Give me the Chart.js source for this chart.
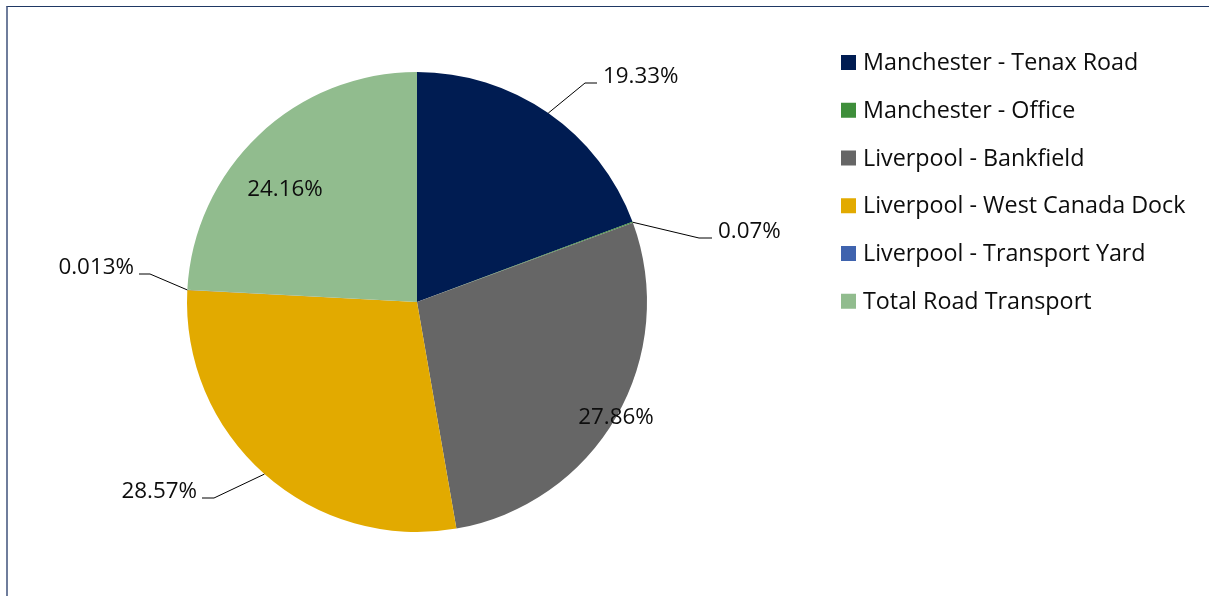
<!DOCTYPE html>
<html>
<head>
<meta charset="utf-8">
<script src="https://cdn.jsdelivr.net/npm/chart.js@4"></script>
<style>
  html, body { margin: 0; padding: 0; background: #fff; overflow: hidden; }
  #wrap { position: relative; width: 1209px; height: 596px; }
  #frame { position: absolute; left: 6px; top: 6px; width: 1220px; height: 620px;
           border-top: 1px solid #1f3864; border-left: 2px solid #6f7d9c; box-sizing: border-box; }
  canvas { position: absolute; left: 0; top: 0; }
</style>
</head>
<body>
<div id="wrap">
  <div id="frame"></div>
  <canvas id="c" width="1209" height="596"></canvas>
</div>
<script>
const categories = [
  "Manchester - Tenax Road",
  "Manchester - Office",
  "Liverpool - Bankfield",
  "Liverpool - West Canada Dock",
  "Liverpool - Transport Yard",
  "Total Road Transport"
];
const shares = [19.33, 0.07, 27.86, 28.57, 0.013, 24.16];
const valueLabels = ["19.33%", "0.07%", "27.86%", "28.57%", "0.013%", "24.16%"];
const colors = ["#001c52", "#3e8e3a", "#666666", "#e2aa00", "#3f63ae", "#91bc8e"];

const LEGEND_FONT = '23.3px "Open Sans", sans-serif';
const LABEL_FONT = '22.4px "Open Sans", sans-serif';
const TEXT = '#0d0d0d';

// label layout, as offsets from the pie centre (pixels at radius 230)
const placement = [
  { kind: 'out', ex: 168, ey: -219, hx: 12, side: 'r' },
  { kind: 'out', ex: 282, ey: -64, hx: 13, side: 'r' },
  { kind: 'in',  cx: 199, cy: 114 },
  { kind: 'out', ex: -203, ey: 196, hx: -12, side: 'l' },
  { kind: 'out', ex: -267, ey: -28, hx: -11, side: 'l' },
  { kind: 'in',  cx: -132, cy: -114 }
];

const labelPlugin = {
  id: 'labels',
  afterDatasetsDraw(chart) {
    const ctx = chart.ctx;
    const meta = chart.getDatasetMeta(0);
    ctx.save();
    ctx.font = LABEL_FONT;
    ctx.fillStyle = TEXT;
    ctx.strokeStyle = '#000';
    ctx.lineWidth = 1;
    meta.data.forEach((arc, i) => {
      const p = arc.getProps(['x', 'y', 'startAngle', 'endAngle', 'outerRadius'], true);
      const s = p.outerRadius / 230;
      const mid = (p.startAngle + p.endAngle) / 2;
      const pl = placement[i];
      if (pl.kind === 'in') {
        ctx.textAlign = 'center';
        ctx.textBaseline = 'alphabetic';
        ctx.fillText(valueLabels[i], p.x + pl.cx * s, p.y + pl.cy * s + 8);
      } else {
        const ax = p.x + Math.cos(mid) * p.outerRadius;
        const ay = p.y + Math.sin(mid) * p.outerRadius;
        const ex = p.x + pl.ex * s, ey = p.y + pl.ey * s;
        const hx = ex + pl.hx;
        ctx.beginPath();
        ctx.moveTo(ax, ay);
        ctx.lineTo(ex, ey);
        ctx.lineTo(hx, ey);
        ctx.stroke();
        ctx.textBaseline = 'alphabetic';
        if (pl.side === 'r') {
          ctx.textAlign = 'left';
          ctx.fillText(valueLabels[i], hx + 6, ey);
        } else {
          ctx.textAlign = 'right';
          ctx.fillText(valueLabels[i], hx - 5, ey);
        }
      }
    });
    ctx.restore();
  }
};

const legendPlugin = {
  id: 'sideLegend',
  afterDraw(chart) {
    const ctx = chart.ctx;
    ctx.save();
    ctx.font = LEGEND_FONT;
    ctx.textAlign = 'left';
    ctx.textBaseline = 'alphabetic';
    chart.data.labels.forEach((lab, i) => {
      const base = 70 + i * 47.75;
      ctx.fillStyle = chart.data.datasets[0].backgroundColor[i];
      ctx.fillRect(841, base - 15, 15, 15);
      ctx.fillStyle = TEXT;
      ctx.fillText(lab, 863, base);
    });
    ctx.restore();
  }
};

new Chart(document.getElementById('c'), {
  type: 'pie',
  data: {
    labels: categories,
    datasets: [{
      data: shares,
      backgroundColor: colors,
      borderWidth: 0
    }]
  },
  options: {
    responsive: false,
    animation: false,
    layout: { padding: { left: 187, right: 562, top: 72, bottom: 64 } },
    plugins: { legend: { display: false }, tooltip: { enabled: false } }
  },
  plugins: [labelPlugin, legendPlugin]
});
</script>
</body>
</html>
